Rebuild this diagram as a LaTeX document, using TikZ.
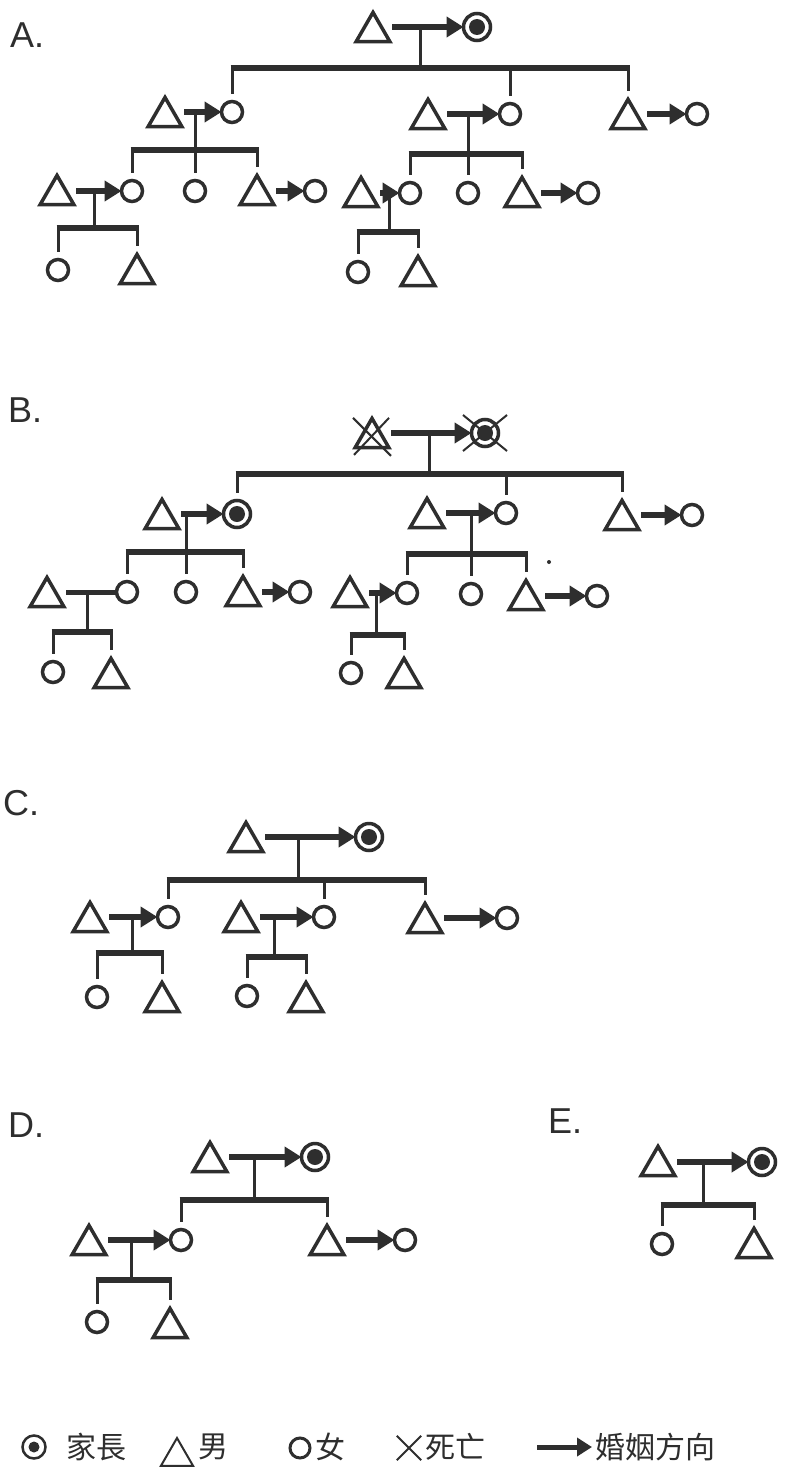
\documentclass[tikz,border=0pt]{standalone}
\usepackage{fontspec}
\setmainfont{Liberation Sans}
\newfontfamily\cjk{Noto Sans CJK TC}
\usetikzlibrary{shapes.geometric,arrows.meta}
\definecolor{ink}{HTML}{2E2E2E}
\tikzset{
 male/.style={regular polygon, regular polygon sides=3, draw=ink, line width=3.5pt, minimum size=39pt, inner sep=0pt, outer sep=0pt, yshift=-4.9pt},
 female/.style={circle, draw=ink, line width=3.5pt, minimum size=21pt, inner sep=0pt, outer sep=0pt},
 head/.style={circle, draw=ink, line width=3.5pt, minimum size=27pt, inner sep=0pt, outer sep=0pt, path picture={\fill[ink] (path picture bounding box.center) circle (8pt);}},
 lhead/.style={circle, draw=ink, line width=2.5pt, minimum size=23pt, inner sep=0pt, outer sep=0pt, path picture={\fill[ink] (path picture bounding box.center) circle (5.5pt);}},
 marr/.style={draw=ink, line width=6pt, shorten <=8pt, -{Triangle[length=17pt,width=20pt]}},
 tie/.style={draw=ink, line width=5pt, shorten <=8pt},
 desc/.style={draw=ink, line width=3pt},
 bar/.style={draw=ink, line width=6.5pt, shorten <=-1.5pt, shorten >=-1.5pt},
 drop/.style={draw=ink, line width=3pt, shorten >=8pt},
 xm/.style={draw=ink, line width=2pt},
 lab/.style={anchor=base west, text=ink, font=\fontsize{36}{40}\selectfont, inner sep=0pt},
 leg/.style={anchor=west, text=ink, font=\cjk\fontsize{30}{34}\selectfont, inner sep=0pt},
}
\newcommand\pmale[3]{\node[male] (#1) at (#2,#3) {};}
\newcommand\pfem[3]{\node[female] (#1) at (#2,#3) {};}
\newcommand\phead[3]{\node[head] (#1) at (#2,#3) {};}
\newcommand\pmarry[2]{\draw[marr] (#1.east |- #2.center) -- (#2.west);}
\newcommand\pdrop[2]{\draw[drop] (#1.north |- #2) -- (#1.north);}
\newcommand\pbar[3]{\draw[desc] (#1) -- (#1 |- #2); \draw[bar] (#2) -- (#3);}
\begin{document}
\begin{tikzpicture}[x=1pt,y=-1pt]
\fill[white] (0,0) rectangle (786,1472);
\useasboundingbox (0,0) rectangle (786,1472);

% ---------------- A ----------------
\node[lab] (labA) at (10,48) {A.};
\pmale{a0m}{373}{27} \phead{a0f}{477}{27} \pmarry{a0m}{a0f}
\coordinate (a0d) at (420,27); \coordinate (a0L) at (232,68); \coordinate (a0R) at (628,68);
\pbar{a0d}{a0L}{a0R}
\pmale{a1m}{165}{112} \pfem{a1f}{232}{112} \pmarry{a1m}{a1f}
\pmale{a2m}{428}{114} \pfem{a2f}{510}{114} \pmarry{a2m}{a2f}
\pmale{a3m}{628}{114} \pfem{a3f}{697}{114} \pmarry{a3m}{a3f}
\pdrop{a1f}{a0L} \pdrop{a2f}{a0L} \pdrop{a3m}{a0L}

\coordinate (a1d) at (195,112); \coordinate (a1L) at (132,150); \coordinate (a1R) at (257,150);
\pbar{a1d}{a1L}{a1R}
\pmale{a11m}{57}{190} \pfem{a11f}{132}{191} \pmarry{a11m}{a11f}
\pfem{a12f}{195}{191}
\pmale{a13m}{257}{190} \pfem{a13f}{315}{191} \pmarry{a13m}{a13f}
\pdrop{a11f}{a1L} \pdrop{a12f}{a1L} \pdrop{a13m}{a1L}

\coordinate (a2d) at (468,114); \coordinate (a2L) at (410,154); \coordinate (a2R) at (522,154);
\pbar{a2d}{a2L}{a2R}
\pmale{a21m}{361}{192} \pfem{a21f}{410}{193} \pmarry{a21m}{a21f}
\pfem{a22f}{468}{193}
\pmale{a23m}{522}{192} \pfem{a23f}{588}{193} \pmarry{a23m}{a23f}
\pdrop{a21f}{a2L} \pdrop{a22f}{a2L} \pdrop{a23m}{a2L}

\coordinate (a11d) at (94,191); \coordinate (a11L) at (58,228); \coordinate (a11R) at (137,228);
\pbar{a11d}{a11L}{a11R}
\pfem{a111f}{58}{270} \pmale{a112m}{137}{269}
\pdrop{a111f}{a11L} \pdrop{a112m}{a11L}

\coordinate (a21d) at (389,193); \coordinate (a21L) at (358,232); \coordinate (a21R) at (418,232);
\pbar{a21d}{a21L}{a21R}
\pfem{a211f}{358}{272} \pmale{a212m}{418}{271}
\pdrop{a211f}{a21L} \pdrop{a212m}{a21L}

% ---------------- B ----------------
\node[lab] (labB) at (8,422) {B.};
\pmale{b0m}{372}{433} \phead{b0f}{485}{433} \pmarry{b0m}{b0f}
\draw[xm] ([shift={(-19,-20)}]b0m.center) -- ([shift={(19,18)}]b0m.center);
\draw[xm] ([shift={(17,-20)}]b0m.center) -- ([shift={(-18,17)}]b0m.center);
\draw[xm] ([shift={(-22,-18)}]b0f.center) -- ([shift={(22,18)}]b0f.center);
\draw[xm] ([shift={(22,-18)}]b0f.center) -- ([shift={(-22,18)}]b0f.center);
\coordinate (b0d) at (429,433); \coordinate (b0L) at (237,474); \coordinate (b0R) at (622,474);
\pbar{b0d}{b0L}{b0R}
\pmale{b1m}{162}{514} \phead{b1f}{237}{514} \pmarry{b1m}{b1f}
\pmale{b2m}{427}{513} \pfem{b2f}{506}{513} \pmarry{b2m}{b2f}
\pmale{b3m}{622}{515} \pfem{b3f}{692}{515} \pmarry{b3m}{b3f}
\pdrop{b1f}{b0L} \pdrop{b2f}{b0L} \pdrop{b3m}{b0L}

\coordinate (b1d) at (186,514); \coordinate (b1L) at (127,552); \coordinate (b1R) at (243,552);
\pbar{b1d}{b1L}{b1R}
\pmale{b11m}{47}{592} \pfem{b11f}{127}{592}
\draw[tie] (b11m.east |- b11f.center) -- (b11f.west);
\pfem{b12f}{186}{592}
\pmale{b13m}{243}{591} \pfem{b13f}{300}{592} \pmarry{b13m}{b13f}
\pdrop{b11f}{b1L} \pdrop{b12f}{b1L} \pdrop{b13m}{b1L}

\coordinate (b2d) at (471,513); \coordinate (b2L) at (407,554); \coordinate (b2R) at (526,554);
\pbar{b2d}{b2L}{b2R}
\pmale{b21m}{350}{592} \pfem{b21f}{407}{593} \pmarry{b21m}{b21f}
\pfem{b22f}{471}{594}
\pmale{b23m}{526}{595} \pfem{b23f}{597}{596} \pmarry{b23m}{b23f}
\pdrop{b21f}{b2L} \pdrop{b22f}{b2L} \pdrop{b23m}{b2L}
\fill[ink] (549,562) circle (2pt);

\coordinate (b11d) at (87,592); \coordinate (b11L) at (53,632); \coordinate (b11R) at (111,632);
\pbar{b11d}{b11L}{b11R}
\pfem{b111f}{53}{672} \pmale{b112m}{111}{673}
\pdrop{b111f}{b11L} \pdrop{b112m}{b11L}

\coordinate (b21d) at (376,593); \coordinate (b21L) at (351,635); \coordinate (b21R) at (404,635);
\pbar{b21d}{b21L}{b21R}
\pfem{b211f}{351}{673} \pmale{b212m}{404}{673}
\pdrop{b211f}{b21L} \pdrop{b212m}{b21L}

% ---------------- C ----------------
\node[lab] (labC) at (3,815) {C.};
\pmale{c0m}{246}{837} \phead{c0f}{369}{837} \pmarry{c0m}{c0f}
\coordinate (c0d) at (298,837); \coordinate (c0L) at (168,880); \coordinate (c0R) at (425,880);
\pbar{c0d}{c0L}{c0R}
\pmale{c1m}{90}{917} \pfem{c1f}{168}{917} \pmarry{c1m}{c1f}
\pmale{c2m}{241}{917} \pfem{c2f}{324}{917} \pmarry{c2m}{c2f}
\pmale{c3m}{425}{918} \pfem{c3f}{507}{918} \pmarry{c3m}{c3f}
\pdrop{c1f}{c0L} \pdrop{c2f}{c0L} \pdrop{c3m}{c0L}

\coordinate (c1d) at (132,917); \coordinate (c1L) at (97,953); \coordinate (c1R) at (162,953);
\pbar{c1d}{c1L}{c1R}
\pfem{c11f}{97}{997} \pmale{c12m}{162}{997}
\pdrop{c11f}{c1L} \pdrop{c12m}{c1L}

\coordinate (c2d) at (274,917); \coordinate (c2L) at (247,957); \coordinate (c2R) at (306,957);
\pbar{c2d}{c2L}{c2R}
\pfem{c21f}{247}{996} \pmale{c22m}{306}{997}
\pdrop{c21f}{c2L} \pdrop{c22m}{c2L}

% ---------------- D ----------------
\node[lab] (labD) at (8,1137) {D.};
\pmale{d0m}{210}{1157} \phead{d0f}{315}{1157} \pmarry{d0m}{d0f}
\coordinate (d0d) at (254,1157); \coordinate (d0L) at (181,1200); \coordinate (d0R) at (327,1200);
\pbar{d0d}{d0L}{d0R}
\pmale{d1m}{89}{1240} \pfem{d1f}{181}{1240} \pmarry{d1m}{d1f}
\pmale{d2m}{327}{1240} \pfem{d2f}{405}{1240} \pmarry{d2m}{d2f}
\pdrop{d1f}{d0L} \pdrop{d2m}{d0L}

\coordinate (d1d) at (131,1240); \coordinate (d1L) at (97,1280); \coordinate (d1R) at (170,1280);
\pbar{d1d}{d1L}{d1R}
\pfem{d11f}{97}{1322} \pmale{d12m}{170}{1323}
\pdrop{d11f}{d1L} \pdrop{d12m}{d1L}

% ---------------- E ----------------
\node[lab] (labE) at (548,1133) {E.};
\pmale{e0m}{658}{1161} \phead{e0f}{762}{1162} \pmarry{e0m}{e0f}
\coordinate (e0d) at (703,1162); \coordinate (e0L) at (662,1205); \coordinate (e0R) at (754,1205);
\pbar{e0d}{e0L}{e0R}
\pfem{e1f}{662}{1244} \pmale{e2m}{754}{1243}
\pdrop{e1f}{e0L} \pdrop{e2m}{e0L}

% ---------------- legend ----------------
\node[lhead] (lgh) at (34,1447) {};
\node[leg] (lgt1) at (66,1447) {家長};
\node[male, minimum size=37pt, line width=2pt, yshift=-4.6pt] (lgm) at (177,1447) {};
\node[leg] (lgt2) at (198,1447) {男};
\node[female, minimum size=20pt, line width=3pt] (lgf) at (300,1448) {};
\node[leg] (lgt3) at (315,1447) {女};
\node[minimum width=24pt, minimum height=24pt, inner sep=0pt] (lgx) at (409,1448) {};
\draw[xm] (lgx.north west) -- (lgx.south east);
\draw[xm] (lgx.north east) -- (lgx.south west);
\node[leg] (lgt4) at (425,1447) {死亡};
\coordinate (lga1) at (537,1447); \coordinate (lga2) at (592,1447);
\draw[draw=ink, line width=5pt, -{Triangle[length=15pt,width=18pt]}] (lga1) -- (lga2);
\node[leg] (lgt5) at (595,1447) {婚姻方向};
\end{tikzpicture}
\end{document}
